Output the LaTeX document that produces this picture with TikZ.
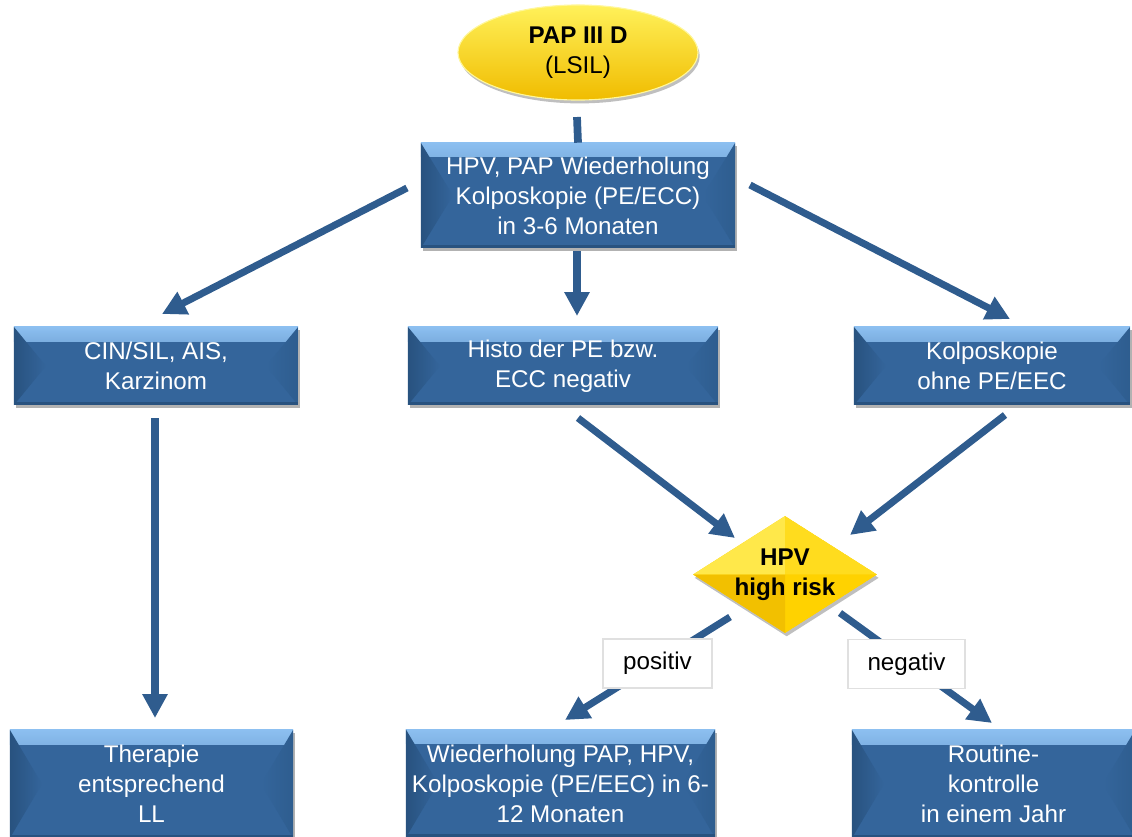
\documentclass[tikz,border=0pt]{standalone}
\usepackage{fontspec}
\setmainfont{Liberation Sans}
\usetikzlibrary{shapes.geometric,arrows.meta,shadows,calc}
\definecolor{boxblue}{HTML}{34659B}
\definecolor{boxdark}{HTML}{28527F}
\definecolor{boxlight}{HTML}{8CBFF0}
\definecolor{boxside}{HTML}{2E5D8F}
\definecolor{arrblue}{HTML}{2F5C8E}
\definecolor{yelTop}{HTML}{FFF15A}
\definecolor{yelMid}{HTML}{FFE000}
\definecolor{yelBot}{HTML}{F0BC00}
\definecolor{yelA}{HTML}{FFE84A}
\definecolor{yelB}{HTML}{FFDC1E}
\definecolor{yelC}{HTML}{FFD200}
\definecolor{yelD}{HTML}{F2C000}
\begin{document}
\begin{tikzpicture}[x=0.025cm,y=-0.025cm,
  txt/.style={font=\fontsize{17.2}{21.4}\selectfont},
  bbox/.style={txt, rectangle, fill=boxblue, text=white, align=center, inner sep=0pt,
    drop shadow={shadow xshift=1.2pt,shadow yshift=-2.4pt,opacity=0.3,fill=black},
    path picture={
      \shade[top color=boxlight, bottom color=boxblue]
        (path picture bounding box.north west) rectangle
        ($(path picture bounding box.north east)+(0cm,-0.35cm)$);
      \shade[left color=boxdark, right color=boxblue]
        (path picture bounding box.north west) -- (path picture bounding box.south west)
        -- ($(path picture bounding box.west)+(0.8cm,0cm)$) -- cycle;
      \shade[left color=boxblue, right color=boxside]
        (path picture bounding box.north east) -- (path picture bounding box.south east)
        -- ($(path picture bounding box.east)+(-0.8cm,0cm)$) -- cycle;
      \fill[boxdark]
        (path picture bounding box.south west) rectangle
        ($(path picture bounding box.south east)+(0cm,0.08cm)$);
    }},
  ell/.style={txt, ellipse, inner sep=0pt, align=center, minimum width=6cm, minimum height=2.375cm,
    top color=yelTop, middle color=yelMid, bottom color=yelBot, draw=yelTop!60!white, line width=0.8pt,
    drop shadow={shadow xshift=1.2pt,shadow yshift=-2.4pt,opacity=0.25,fill=black}},
  dia/.style={diamond, shape aspect=1.57, inner sep=-3pt, align=center, minimum width=4.6cm, minimum height=2.925cm,
    fill=yelC, font=\fontsize{17.2}{21.4}\selectfont\bfseries,
    drop shadow={shadow xshift=1.2pt,shadow yshift=-2.4pt,opacity=0.25,fill=black},
    path picture={
      \fill[yelA] (path picture bounding box.center) -- (path picture bounding box.west) -- (path picture bounding box.north) -- cycle;
      \fill[yelB] (path picture bounding box.center) -- (path picture bounding box.north) -- (path picture bounding box.east) -- cycle;
      \fill[yelC] (path picture bounding box.center) -- (path picture bounding box.east) -- (path picture bounding box.south) -- cycle;
      \fill[yelD] (path picture bounding box.center) -- (path picture bounding box.south) -- (path picture bounding box.west) -- cycle;
    }},
  lbl/.style={txt, rectangle, fill=white, draw=black!12, line width=1pt, inner sep=0pt, minimum height=1.22cm},
  arr/.style={draw=arrblue, line width=5pt, -{Triangle[width=17pt,length=17pt]}},
  conn/.style={draw=arrblue, line width=5.5pt}
]
\path[use as bounding box, clip] (0,0) rectangle (1132,836);

% nodes
\node[ell] (pap) at (578,52.5) {\textbf{PAP III D}\\(LSIL)};
\node[bbox, minimum width=7.85cm, minimum height=2.625cm] (top) at (578,195.5)
  {HPV, PAP Wiederholung\\Kolposkopie (PE/ECC)\\in 3-6 Monaten};
\node[bbox, minimum width=7.1cm, minimum height=1.95cm] (cin) at (156,366)
  {CIN/SIL, AIS,\\Karzinom};
\node[bbox, minimum width=7.75cm, minimum height=1.95cm] (histo) at (563,366)
  {Histo der PE bzw.\\ECC negativ};
\node[bbox, minimum width=6.9cm, minimum height=1.95cm] (kolpo) at (992,366)
  {Kolposkopie\\ohne PE/EEC};
\node[dia] (hpv) at (785,574.5) {HPV\\high risk};
\node[bbox, minimum width=7.075cm, minimum height=2.7cm] (ther) at (151.5,784)
  {Therapie\\entsprechend\\LL};
\node[bbox, minimum width=7.725cm, minimum height=2.7cm] (wied) at (560.5,783.5)
  {Wiederholung PAP, HPV,\\Kolposkopie (PE/EEC) in 6-\\12 Monaten};
\node[bbox, minimum width=7.075cm, minimum height=2.7cm] (rout) at (993.5,784)
  {Routine-\\kontrolle\\in einem Jahr};

% connector end points
\coordinate (c0) at (577,117);
\coordinate (a1s) at (407,188);  \coordinate (a1e) at (162,314);
\coordinate (a2s) at (577,251);  \coordinate (a2e) at (577,316);
\coordinate (a3s) at (750,185);  \coordinate (a3e) at (1010,319);
\coordinate (a4s) at (155,418);  \coordinate (a4e) at (155,718);
\coordinate (a5s) at (578,418);  \coordinate (a5e) at (735,538);
\coordinate (a6s) at (1005,415); \coordinate (a6e) at (850,535);
\coordinate (a7s) at (730,617);  \coordinate (a7e) at (565,720);
\coordinate (a8s) at (840,613);  \coordinate (a8e) at (992,723);

\draw[conn] (c0) -- (top.north);
\draw[arr] (a1s) -- (a1e);
\draw[arr] (a2s) -- (a2e);
\draw[arr] (a3s) -- (a3e);
\draw[arr] (a4s) -- (a4e);
\draw[arr] (a5s) -- (a5e);
\draw[arr] (a6s) -- (a6e);
\draw[arr] (a7s) -- (a7e);
\draw[arr] (a8s) -- (a8e);

% labels
\node[lbl, minimum width=2.725cm] (pos) at (657.5,663.5) {positiv};
\node[lbl, minimum width=2.925cm] (neg) at (906.5,664) {negativ};
\end{tikzpicture}
\end{document}
